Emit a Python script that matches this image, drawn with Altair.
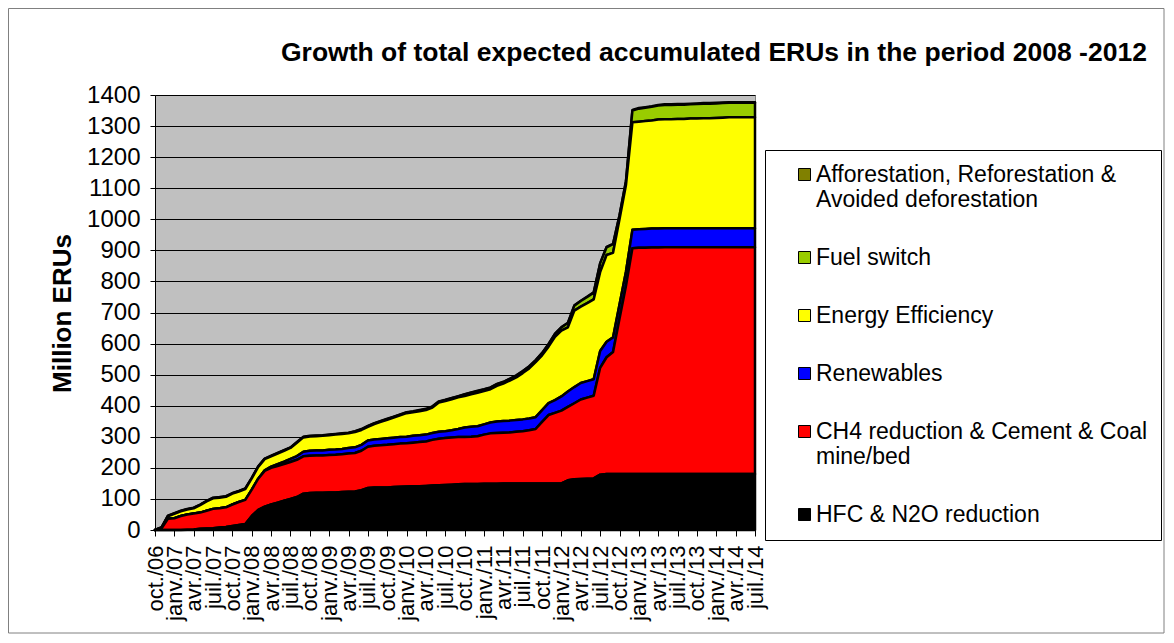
import altair as alt
import pandas as pd

# ---------------- data ----------------
quarter_labels = [
    "oct./06", "janv./07", "avr./07", "juil./07", "oct./07", "janv./08", "avr./08", "juil./08",
    "oct./08", "janv./09", "avr./09", "juil./09", "oct./09", "janv./10", "avr./10", "juil./10",
    "oct./10", "janv./11", "avr./11", "juil./11", "oct./11", "janv./12", "avr./12", "juil./12",
    "oct./12", "janv./13", "avr./13", "juil./13", "oct./13", "janv./14", "avr./14", "juil./14",
]

# monthly values, Million ERUs, oct. 2006 .. juil. 2014 (94 months)
hfc = [0, 0, 0, 0, 0, 1, 2, 4, 5, 6,
       8, 10, 13, 16, 19, 45, 65, 75, 82, 88,
       94, 100, 106, 117, 119, 120, 120, 121, 121, 122,
       123, 124, 128, 135, 137, 137, 137, 138, 139, 140,
       141, 141, 142, 143, 144, 145, 146, 147, 148, 148,
       148, 149, 149, 149, 150, 150, 150, 150, 150, 150,
       150, 150, 150, 150, 160, 163, 164, 165, 166, 178,
       180, 180, 180, 180, 180, 180, 180, 180, 180, 180,
       180, 180, 180, 180, 180, 180, 180, 180, 180, 180,
       180, 180, 180, 180]

ch4 = [0, 5, 36, 38, 45, 49, 51, 52, 57, 62,
       62, 63, 69, 74, 78, 85, 100, 115, 118, 118,
       118, 119, 120, 120, 120, 120, 120, 120, 121, 122,
       123, 124, 127, 133, 134, 136, 137, 138, 139, 139,
       140, 142, 143, 147, 150, 151, 152, 152, 151, 152,
       154, 158, 162, 163, 163, 164, 166, 168, 171, 175,
       198, 220, 227, 234, 236, 245, 256, 261, 266, 344,
       376, 393, 500, 605, 727, 728, 728, 729, 729, 730,
       730, 730, 730, 730, 730, 730, 730, 730, 730, 730,
       730, 730, 730, 730]

renew = [0, 0, 0, 0, 0, 0, 0, 0, 0, 0,
         0, 0, 0, 0, 0, 0, 0, 2, 4, 6,
         8, 10, 12, 15, 16, 16, 16, 17, 17, 17,
         18, 18, 19, 20, 20, 20, 21, 21, 21, 21,
         22, 22, 22, 22, 22, 22, 23, 26, 31, 32,
         32, 33, 35, 37, 38, 38, 38, 38, 38, 38,
         38, 38, 41, 46, 50, 52, 53, 53, 53, 54,
         50, 47, 46, 46, 59, 60, 61, 61, 61, 61,
         61, 61, 61, 61, 61, 61, 61, 61, 61, 61,
         61, 61, 61, 61]

eff = [0, 3, 8, 14, 15, 16, 17, 24, 30, 34,
       34, 34, 35, 34, 35, 36, 38, 36, 33, 34,
       35, 35, 43, 46, 46, 46, 47, 47, 48, 48,
       47, 49, 48, 44, 50, 55, 60, 65, 70, 76,
       76, 77, 79, 82, 94, 97, 100, 102, 101, 105,
       108, 107, 107, 115, 120, 129, 137, 149, 161, 177,
       176, 182, 204, 212, 206, 246, 246, 251, 257, 254,
       279, 272, 274, 279, 346, 346, 347, 348, 351, 351,
       351, 352, 352, 353, 353, 354, 354, 355, 356, 357,
       357, 357, 357, 357]

fuel = [0, 0, 1, 1, 1, 1, 1, 1, 1, 1,
        1, 1, 1, 1, 1, 1, 1, 1, 1, 1,
        1, 1, 1, 1, 1, 1, 1, 1, 1, 1,
        1, 2, 2, 2, 2, 2, 2, 2, 2, 2,
        2, 3, 3, 3, 3, 3, 3, 3, 5, 5,
        5, 5, 5, 5, 5, 5, 6, 6, 6, 6,
        7, 8, 9, 10, 14, 16, 18, 20, 22, 28,
        25, 28, 12, 12, 38, 42, 43, 44, 45, 46,
        46, 46, 46, 46, 47, 47, 47, 47, 47, 47,
        47, 47, 47, 47]

affor = [0, 0, 1, 1, 1, 1, 1, 1, 1, 1,
         1, 1, 1, 1, 1, 1, 1, 1, 1, 1,
         1, 1, 1, 1, 1, 1, 1, 1, 1, 1,
         1, 1, 1, 1, 1, 1, 1, 1, 1, 1,
         1, 1, 1, 1, 1, 1, 1, 1, 1, 1,
         1, 1, 1, 1, 1, 1, 1, 1, 1, 1,
         1, 1, 1, 1, 1, 1, 1, 1, 1, 1,
         1, 1, 1, 1, 2, 2, 2, 2, 2, 2,
         2, 2, 2, 2, 2, 2, 2, 2, 2, 2,
         2, 2, 2, 2]

series_names = [
    "Afforestation, Reforestation &|Avoided deforestation",
    "Fuel switch",
    "Energy Efficiency",
    "Renewables",
    "CH4 reduction & Cement & Coal|mine/bed",
    "HFC & N2O reduction",
]
series_colors = ["#808000", "#99CC00", "#FFFF00", "#0000FF", "#FF0000", "#000000"]
stack_rank = [5, 4, 3, 2, 1, 0]
series_values = [affor, fuel, eff, renew, ch4, hfc]

months = list(range(len(hfc)))

rows = []
for name, rank, vals in zip(series_names, stack_rank, series_values):
    for m, v in zip(months, vals):
        rows.append({"month": m, "series": name, "rank": rank, "value": v})
df = pd.DataFrame(rows)

FONT = "Liberation Sans"
W, H = 600, 435
PAD = {"left": 147, "top": 87, "right": 410, "bottom": 104}
x_label_expr = "[" + ",".join("'%s'" % s for s in quarter_labels) + "][round(datum.value / 3)]"

area = alt.Chart(df).mark_area(
    stroke="black", strokeWidth=2.5, strokeJoin="round", interpolate="linear"
).encode(
    x=alt.X(
        "month:Q",
        scale=alt.Scale(domain=[0, len(hfc) - 1], nice=False, zero=False),
        axis=alt.Axis(
            values=list(range(0, len(hfc), 3)),
            labelExpr=x_label_expr,
            labelAngle=270,
            labelAlign="right",
            labelBaseline="middle",
            labelFontSize=22,
            labelPadding=9,
            labelOverlap=False,
            labelFlush=False,
            tickSize=6,
            grid=False,
            title=None,
            domainColor="black",
            tickColor="black",
            labelColor="black",
        ),
    ),
    y=alt.Y(
        "value:Q",
        stack="zero",
        scale=alt.Scale(domain=[0, 1400], nice=False),
        axis=alt.Axis(
            values=list(range(0, 1401, 100)),
            format="d",
            labelFontSize=24,
            labelPadding=10,
            tickSize=5,
            labelColor="black",
            domainColor="black",
            tickColor="black",
            grid=True,
            gridColor="black",
            gridOpacity=1,
            gridWidth=1,
            title="Million ERUs",
            titleFontSize=26,
            titleFontWeight="bold",
            titleColor="black",
            titleAngle=270,
            titleX=-93,
            titleY=218,
            titleAlign="center",
            titleBaseline="middle",
        ),
    ),
    color=alt.Color(
        "series:N",
        scale=alt.Scale(domain=series_names, range=series_colors),
        legend=alt.Legend(
            title=None,
            orient="none",
            legendX=610,
            legendY=55,
            direction="vertical",
            symbolType="square",
            symbolSize=144,
            symbolStrokeColor="black",
            symbolStrokeWidth=1,
            symbolOffset=15,
            labelFontSize=23,
            labelFont=FONT,
            labelColor="black",
            labelLimit=420,
            labelOffset=0,
            labelExpr="split(datum.label, '|')",
            padding=13,
            rowPadding=34,
            strokeColor="black",
            fillColor="white",
        ),
    ),
    order=alt.Order("rank:Q", sort="ascending"),
)

# thin frame around the whole chart area (decoration, like the spreadsheet chart border)
frame = alt.Chart(pd.DataFrame({"k": [0]})).mark_rect(
    filled=False, stroke="#808080", strokeWidth=1
).encode(
    x=alt.value(-PAD["left"] + 0.5),
    x2=alt.value(W + PAD["right"] - 1),
    y=alt.value(-PAD["top"] + 0.5),
    y2=alt.value(H + PAD["bottom"] - 1),
)

chart = alt.layer(frame, area).properties(
    width=W,
    height=H,
    autosize=alt.AutoSizeParams(type="none"),
    padding=PAD,
    title=alt.TitleParams(
        "Growth of total expected accumulated ERUs in the period 2008 -2012",
        fontSize=26.5,
        fontWeight="bold",
        font=FONT,
        color="black",
        anchor="start",
        frame="group",
        dx=126,
        dy=62,
    ),
).configure(
    font=FONT,
    background="white",
).configure_view(
    fill="#C0C0C0",
    stroke="#808080",
    strokeWidth=1,
)

chart.save("out.html", embed_options={"renderer": "svg", "actions": False})
